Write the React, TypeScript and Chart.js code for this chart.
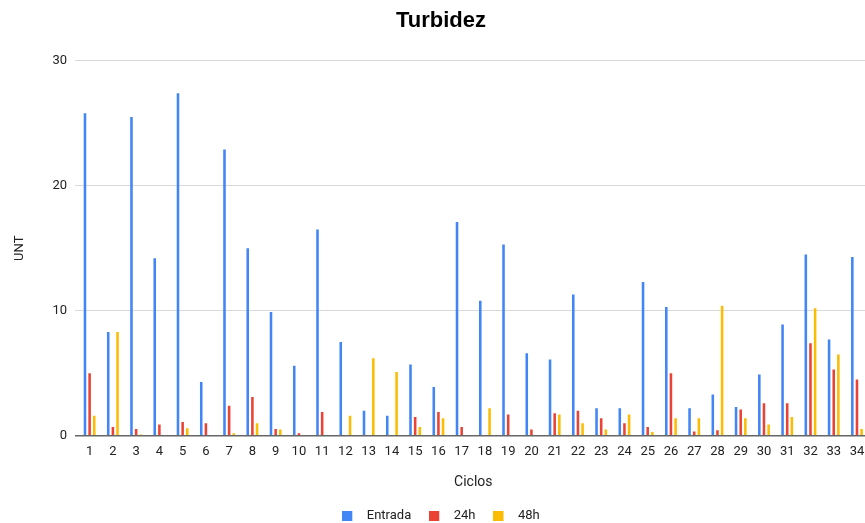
import React, { useEffect, useRef } from "react";
import { Chart, registerables } from "chart.js";

Chart.register(...registerables);

const categories = [
  "1", "2", "3", "4", "5", "6", "7", "8", "9", "10", "11", "12", "13", "14", "15", "16", "17",
  "18", "19", "20", "21", "22", "23", "24", "25", "26", "27", "28", "29", "30", "31", "32", "33", "34",
];

const entrada = [
  25.8, 8.3, 25.5, 14.2, 27.4, 4.3, 22.9, 15.0, 9.9, 5.6, 16.5, 7.5, 2.0, 1.6, 5.7, 3.9, 17.1,
  10.8, 15.3, 6.6, 6.1, 11.3, 2.2, 2.2, 12.3, 10.3, 2.2, 3.3, 2.3, 4.9, 8.9, 14.5, 7.7, 14.3,
];

const h24 = [
  5.0, 0.7, 0.55, 0.9, 1.1, 1.0, 2.4, 3.1, 0.55, 0.2, 1.9, null, null, null, 1.5, 1.9, 0.7,
  null, 1.7, 0.5, 1.8, 2.0, 1.4, 1.0, 0.7, 5.0, 0.35, 0.45, 2.1, 2.6, 2.6, 7.4, 5.3, 4.5,
];

const h48 = [
  1.6, 8.3, 0.1, null, 0.6, null, 0.2, 1.0, 0.5, null, null, 1.6, 6.2, 5.1, 0.7, 1.4, null,
  2.2, null, null, 1.7, 1.0, 0.5, 1.7, 0.3, 1.4, 1.4, 10.4, 1.4, 0.9, 1.5, 10.2, 6.5, 0.55,
];

const seriesNames = ["Entrada", "24h", "48h"];
const seriesColors = ["#4285F4", "#EA4335", "#FBBC04"];

const yTicks = [0, 10, 20, 30];

function makeMarker(color: string) {
  const c = document.createElement("canvas");
  c.width = 18;
  c.height = 10;
  const g = c.getContext("2d")!;
  g.fillStyle = color;
  g.fillRect(0, 0, 10, 10);
  return c;
}

export default function App() {
  const ref = useRef<HTMLCanvasElement | null>(null);

  useEffect(() => {
    if (!ref.current) return;
    Chart.defaults.font.family = "Roboto";
    const markers = seriesColors.map(makeMarker);
    const chart = new Chart(ref.current, {
      type: "bar",
      data: {
        labels: categories,
        datasets: [entrada, h24, h48].map((d, i) => ({
          label: seriesNames[i],
          data: d,
          backgroundColor: seriesColors[i],
          borderWidth: 0,
          categoryPercentage: 0.6,
          barPercentage: 0.55,
        })),
      },
      options: {
        responsive: false,
        animation: false,
        devicePixelRatio: 1,
        layout: { padding: { left: 0, right: 0, top: 0, bottom: -9 } },
        plugins: {
          title: {
            display: true,
            text: "Turbidez",
            color: "#000",
            font: { size: 22, weight: "bold", family: "'Liberation Sans', Arial, sans-serif" },
            padding: { top: 7.8, bottom: 26.5 },
          },
          legend: {
            position: "bottom",
            labels: {
              usePointStyle: true,
              pointStyleWidth: 18,
              boxHeight: 10,
              padding: 18,
              color: "#222",
              font: { size: 13, family: "Roboto" },
              generateLabels: (ch: any) => {
                const items = (Chart.defaults.plugins.legend.labels as any).generateLabels(ch);
                return items.map((it: any, i: number) => ({ ...it, pointStyle: markers[i] }));
              },
            },
          },
          tooltip: { enabled: false },
        },
        scales: {
          x: {
            grid: { display: false, drawTicks: false },
            border: { display: false },
            ticks: { color: "#222", font: { size: 13 }, padding: 7.7, maxRotation: 0, autoSkip: false },
            title: {
              display: true,
              text: "Ciclos",
              color: "#222",
              font: { size: 14 },
              padding: { top: 7.4, bottom: 0 },
            },
          },
          y: {
            min: 0,
            max: 30,
            afterFit: (scale: any) => {
              scale.width = 78;
            },
            afterBuildTicks: (scale: any) => {
              scale.ticks = yTicks.map((v) => ({ value: v }));
            },
            grid: {
              color: (ctx: any) => (ctx.tick && ctx.tick.value === 0 ? "#666" : "#d9d9d9"),
              lineWidth: (ctx: any) => (ctx.tick && ctx.tick.value === 0 ? 1.5 : 1),
              tickLength: 3,
              drawTicks: true,
            },
            border: { display: false },
            ticks: { color: "#222", font: { size: 13 }, padding: 8 },
            title: {
              display: true,
              text: "UNT",
              color: "#222",
              font: { size: 13 },
              padding: { top: 12.2, bottom: 0 },
            },
          },
          yRightSpacer: {
            type: "linear",
            position: "right",
            display: true,
            afterFit: (scale: any) => {
              scale.width = 13.4;
            },
            grid: { display: false, drawTicks: false },
            border: { display: false },
            ticks: { display: false },
          },
        },
      },
    });
    return () => chart.destroy();
  }, []);

  return (
    <div
      style={{
        position: "fixed",
        left: 0,
        top: 0,
        width: 865,
        height: 523,
        overflow: "hidden",
        background: "#fff",
      }}
    >
      <canvas ref={ref} width={882} height={523} style={{ display: "block" }} />
    </div>
  );
}
